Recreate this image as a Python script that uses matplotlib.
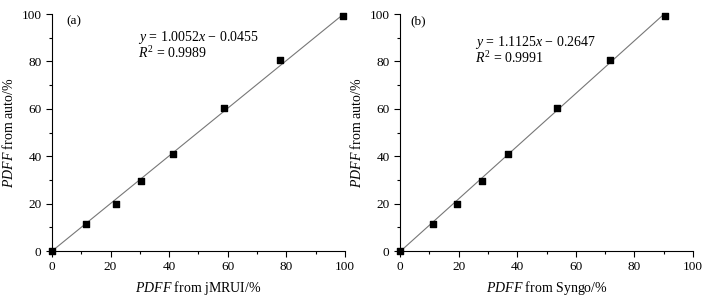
import numpy as np
import matplotlib.pyplot as plt
from matplotlib.ticker import MultipleLocator

plt.rcParams['font.family'] = ['Liberation Serif', 'DejaVu Serif']
plt.rcParams['mathtext.fontset'] = 'custom'
plt.rcParams['mathtext.rm'] = 'Liberation Serif'
plt.rcParams['mathtext.it'] = 'Liberation Serif:italic'

# PDFF values
auto_vals = [0, 11.6, 20.0, 29.6, 41.0, 60.3, 80.8, 99.2]
jmrui_vals = [0, 11.5, 21.7, 30.3, 41.2, 58.8, 77.9, 99.5]
syngo_vals = [0, 11.3, 19.6, 27.9, 36.7, 53.5, 71.5, 90.3]

fit_a = (1.0052, -0.0455, 0.9989)
fit_b = (1.1125, -0.2647, 0.9991)

fig = plt.figure(figsize=(7.07, 3.03), dpi=100)
ax_a = fig.add_axes([0.0735, 0.1716, 0.4144, 0.782])
ax_b = fig.add_axes([0.5658, 0.1716, 0.4144, 0.782])

panels = [
    (ax_a, jmrui_vals, fit_a, '(a)', 'jMRUI', (5.0, 97.0), (29.5, 90.0)),
    (ax_b, syngo_vals, fit_b, '(b)', 'Syngo', (3.5, 97.0), (25.5, 88.0)),
]

for ax, xs, fit, tag, src, tag_pos, eq_pos in panels:
    slope, icpt, r2 = fit
    xl = np.array([0.5, max(xs)])
    ax.plot(xl, slope * xl + icpt, color='#777777', lw=0.8, zorder=1)
    ax.scatter(xs, auto_vals, marker='s', s=14, color='black', zorder=2,
               clip_on=False)

    ax.set_xlim(0, 100)
    ax.set_ylim(0, 100)
    ax.xaxis.set_major_locator(MultipleLocator(20))
    ax.xaxis.set_minor_locator(MultipleLocator(10))
    ax.yaxis.set_major_locator(MultipleLocator(20))
    ax.yaxis.set_minor_locator(MultipleLocator(10))
    ax.spines['top'].set_visible(False)
    ax.spines['right'].set_visible(False)
    for sp in ('left', 'bottom'):
        ax.spines[sp].set_linewidth(0.8)
    ax.tick_params(which='major', direction='out', length=4, width=0.8,
                   labelsize=9.5)
    ax.tick_params(which='minor', direction='out', length=2.5, width=0.8)

    ax.set_xlabel(r'$\mathit{PDFF}$ from ' + src + '/%', fontsize=10)
    ax.set_ylabel(r'$\mathit{PDFF}$ from auto/%', fontsize=10)

    ax.text(tag_pos[0], tag_pos[1], tag, fontsize=9.5, va='center')
    ax.text(eq_pos[0], eq_pos[1],
            r'$\mathit{y}$ = %.4f$\mathit{x}$ − %.4f' % (slope, -icpt),
            fontsize=10, va='center')
    ax.text(eq_pos[0], eq_pos[1] - 6.5,
            r'$\mathit{R}^2$ = %.4f' % r2, fontsize=10, va='center')

fig.savefig('out.png', dpi=100)
